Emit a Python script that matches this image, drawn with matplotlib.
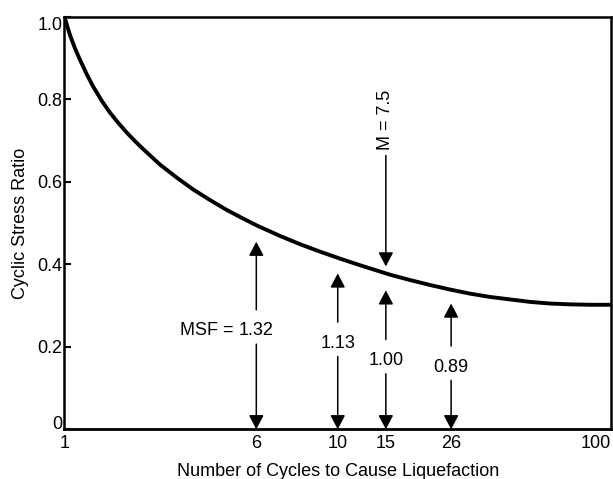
import numpy as np
import matplotlib.pyplot as plt

plt.rcParams['font.family'] = ['Liberation Sans', 'DejaVu Sans']

# stress ratio curve
cycles = [1.0, 1.053, 1.103, 1.156, 1.234, 1.305, 1.419, 1.53, 1.648, 1.793,
          1.932, 2.082, 2.264, 2.44, 2.86, 3.321, 3.894, 4.52, 5.152, 6.03,
          6.96, 7.89, 8.94, 10.19, 12.06, 15.53, 18.38, 21.76, 25.75, 30.48,
          36.07, 42.68, 50.52, 59.8, 70.78, 83.78, 100.0]
stress_ratio = [1.0, 0.956, 0.924, 0.896, 0.86, 0.832, 0.796, 0.768, 0.744, 0.719,
                0.699, 0.68, 0.66, 0.642, 0.61, 0.582, 0.556, 0.533, 0.515, 0.494,
                0.469, 0.449, 0.431, 0.414, 0.398, 0.375, 0.362, 0.35, 0.339, 0.329,
                0.321, 0.315, 0.309, 0.305, 0.303, 0.302, 0.302]

x_ticks = [1, 6, 10, 15, 26, 100]
x_tick_labels = ['1', '6', '10', '15', '26', '100']
y_ticks = [0, 0.2, 0.4, 0.6, 0.8, 1.0]
y_tick_labels = ['0', '0.2', '0.4', '0.6', '0.8', '1.0']

# MSF arrows
msf_cycles = [6, 10, 15, 26]
msf_labels = ['1.32', '1.13', '1.00', '0.89']
msf_label_y = [0.239, 0.209, 0.167, 0.151]
msf_top = [0.455, 0.378, 0.337, 0.305]

# reference magnitude arrow
ref_cycles = 15
ref_label = 'M = 7.5'
ref_label_y = 0.75
ref_tip = 0.395


# the original axis is log-like but with 6 drawn a bit to the left
_knot_log = [-3, 0, np.log10(6), 1, 2, 5]
_knot_pos = [-1.353, 0, 0.351, 0.5, 1.0, 2.5]


def forward(n):
    return np.interp(np.log10(np.maximum(n, 1e-12)), _knot_log, _knot_pos)


def inverse(p):
    return 10 ** np.interp(p, _knot_pos, _knot_log)


fig = plt.figure(figsize=(6.13, 4.79), dpi=100)
ax = fig.add_axes([0.1052, 0.1038, 0.8915, 0.8607])
ax.set_xscale('function', functions=(forward, inverse))

ax.plot(cycles, stress_ratio, color='black', lw=2.8,
        solid_capstyle='butt', solid_joinstyle='round')

ax.set_xlim(1, 100)
ax.set_ylim(0, 1.0)

ax.set_xticks(x_ticks)
ax.set_xticklabels(x_tick_labels)
ax.set_yticks(y_ticks)
ax.set_yticklabels(y_tick_labels)
ax.tick_params(axis='x', length=0, pad=4, labelsize=13)
ax.tick_params(axis='y', direction='in', length=5, width=1.5, pad=1.5, labelsize=13)
ax.get_xticklabels()[-1].set_horizontalalignment('right')
ax.get_yticklabels()[0].set_verticalalignment('baseline')
ax.get_yticklabels()[-1].set_verticalalignment('top')

for side in ['left', 'right', 'top']:
    ax.spines[side].set_linewidth(1.8)
ax.spines['bottom'].set_linewidth(2.0)

ax.set_xlabel('Number of Cycles to Cause Liquefaction', fontsize=13, labelpad=7.8)
ax.set_ylabel('Cyclic Stress Ratio', fontsize=13, labelpad=6)

arrow_kw = dict(arrowstyle='-|>,head_length=0.85,head_width=0.45',
                color='black', lw=1.1, mutation_scale=10, shrinkB=0)

for x, lab, ly, top in zip(msf_cycles, msf_labels, msf_label_y, msf_top):
    t = ax.text(x, ly, lab, ha='center', va='center', fontsize=13)
    ax.annotate('', xy=(x, top), xytext=(0.5, 1), textcoords=t,
                arrowprops=dict(arrow_kw, shrinkA=9))
    ax.annotate('', xy=(x, 0), xytext=(0.5, 0), textcoords=t,
                arrowprops=dict(arrow_kw, shrinkA=3.5))
    if x == msf_cycles[0]:
        ax.annotate('MSF =', xy=(0, 0.5), xycoords=t, xytext=(-3.6, 0),
                    textcoords='offset points', ha='right', va='center', fontsize=13)

t = ax.text(ref_cycles, ref_label_y, ref_label, rotation=90,
            ha='center', va='center', fontsize=13)
ax.annotate('', xy=(ref_cycles, ref_tip), xytext=(0.5, 0), textcoords=t,
            arrowprops=dict(arrow_kw, shrinkA=3.8))

fig.savefig('out.png', dpi=100)
